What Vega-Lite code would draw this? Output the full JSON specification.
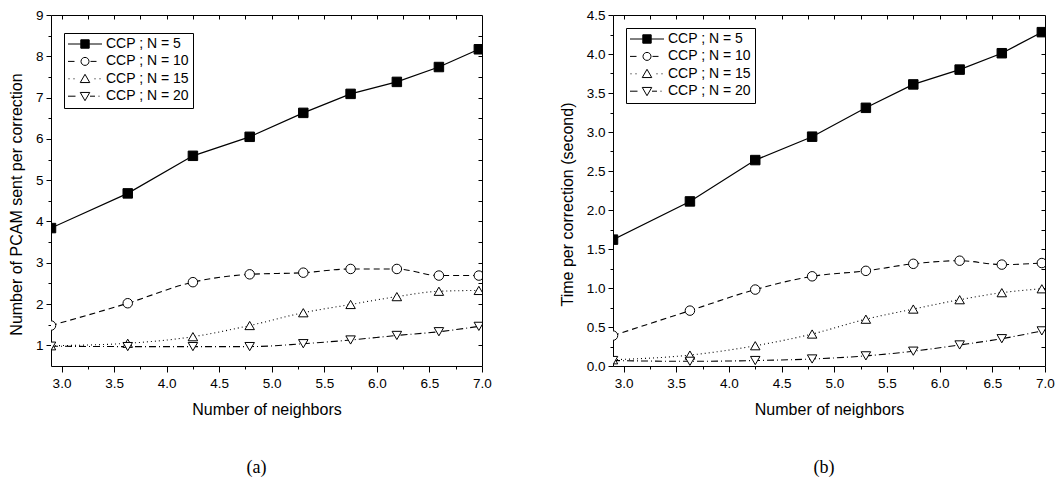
{
  "$schema": "https://vega.github.io/schema/vega-lite/v6.json",
  "padding": {"left": 7, "top": 7, "right": 5, "bottom": 2},
  "spacing": 66,
  "resolve": {
    "scale": {"shape": "independent", "fill": "independent", "stroke": "independent"},
    "legend": {"shape": "independent", "fill": "independent", "stroke": "independent"}
  },
  "datasets": {
    "a": [
      {"x": 2.9, "y": 3.84, "series": "CCP ; N = 5"},
      {"x": 3.63, "y": 4.68, "series": "CCP ; N = 5"},
      {"x": 4.25, "y": 5.59, "series": "CCP ; N = 5"},
      {"x": 4.79, "y": 6.05, "series": "CCP ; N = 5"},
      {"x": 5.3, "y": 6.63, "series": "CCP ; N = 5"},
      {"x": 5.75, "y": 7.09, "series": "CCP ; N = 5"},
      {"x": 6.19, "y": 7.38, "series": "CCP ; N = 5"},
      {"x": 6.59, "y": 7.74, "series": "CCP ; N = 5"},
      {"x": 6.97, "y": 8.17, "series": "CCP ; N = 5"},
      {"x": 2.9, "y": 1.48, "series": "CCP ; N = 10"},
      {"x": 3.63, "y": 2.02, "series": "CCP ; N = 10"},
      {"x": 4.25, "y": 2.53, "series": "CCP ; N = 10"},
      {"x": 4.79, "y": 2.72, "series": "CCP ; N = 10"},
      {"x": 5.3, "y": 2.76, "series": "CCP ; N = 10"},
      {"x": 5.75, "y": 2.85, "series": "CCP ; N = 10"},
      {"x": 6.19, "y": 2.85, "series": "CCP ; N = 10"},
      {"x": 6.59, "y": 2.69, "series": "CCP ; N = 10"},
      {"x": 6.97, "y": 2.69, "series": "CCP ; N = 10"},
      {"x": 2.9, "y": 0.99, "series": "CCP ; N = 15"},
      {"x": 3.63, "y": 1.05, "series": "CCP ; N = 15"},
      {"x": 4.25, "y": 1.21, "series": "CCP ; N = 15"},
      {"x": 4.79, "y": 1.48, "series": "CCP ; N = 15"},
      {"x": 5.3, "y": 1.79, "series": "CCP ; N = 15"},
      {"x": 5.75, "y": 1.99, "series": "CCP ; N = 15"},
      {"x": 6.19, "y": 2.18, "series": "CCP ; N = 15"},
      {"x": 6.59, "y": 2.31, "series": "CCP ; N = 15"},
      {"x": 6.97, "y": 2.33, "series": "CCP ; N = 15"},
      {"x": 2.9, "y": 0.98, "series": "CCP ; N = 20"},
      {"x": 3.63, "y": 0.97, "series": "CCP ; N = 20"},
      {"x": 4.25, "y": 0.97, "series": "CCP ; N = 20"},
      {"x": 4.79, "y": 0.97, "series": "CCP ; N = 20"},
      {"x": 5.3, "y": 1.04, "series": "CCP ; N = 20"},
      {"x": 5.75, "y": 1.13, "series": "CCP ; N = 20"},
      {"x": 6.19, "y": 1.24, "series": "CCP ; N = 20"},
      {"x": 6.59, "y": 1.33, "series": "CCP ; N = 20"},
      {"x": 6.97, "y": 1.46, "series": "CCP ; N = 20"}
    ],
    "b": [
      {"x": 2.9, "y": 1.62, "series": "CCP ; N = 5"},
      {"x": 3.63, "y": 2.11, "series": "CCP ; N = 5"},
      {"x": 4.25, "y": 2.64, "series": "CCP ; N = 5"},
      {"x": 4.79, "y": 2.94, "series": "CCP ; N = 5"},
      {"x": 5.3, "y": 3.31, "series": "CCP ; N = 5"},
      {"x": 5.75, "y": 3.61, "series": "CCP ; N = 5"},
      {"x": 6.19, "y": 3.8, "series": "CCP ; N = 5"},
      {"x": 6.59, "y": 4.01, "series": "CCP ; N = 5"},
      {"x": 6.97, "y": 4.28, "series": "CCP ; N = 5"},
      {"x": 2.9, "y": 0.39, "series": "CCP ; N = 10"},
      {"x": 3.63, "y": 0.71, "series": "CCP ; N = 10"},
      {"x": 4.25, "y": 0.98, "series": "CCP ; N = 10"},
      {"x": 4.79, "y": 1.15, "series": "CCP ; N = 10"},
      {"x": 5.3, "y": 1.22, "series": "CCP ; N = 10"},
      {"x": 5.75, "y": 1.31, "series": "CCP ; N = 10"},
      {"x": 6.19, "y": 1.35, "series": "CCP ; N = 10"},
      {"x": 6.59, "y": 1.3, "series": "CCP ; N = 10"},
      {"x": 6.97, "y": 1.32, "series": "CCP ; N = 10"},
      {"x": 2.9, "y": 0.08, "series": "CCP ; N = 15"},
      {"x": 3.63, "y": 0.14, "series": "CCP ; N = 15"},
      {"x": 4.25, "y": 0.26, "series": "CCP ; N = 15"},
      {"x": 4.79, "y": 0.41, "series": "CCP ; N = 15"},
      {"x": 5.3, "y": 0.6, "series": "CCP ; N = 15"},
      {"x": 5.75, "y": 0.73, "series": "CCP ; N = 15"},
      {"x": 6.19, "y": 0.85, "series": "CCP ; N = 15"},
      {"x": 6.59, "y": 0.94, "series": "CCP ; N = 15"},
      {"x": 6.97, "y": 0.99, "series": "CCP ; N = 15"},
      {"x": 2.9, "y": 0.07, "series": "CCP ; N = 20"},
      {"x": 3.63, "y": 0.06, "series": "CCP ; N = 20"},
      {"x": 4.25, "y": 0.07, "series": "CCP ; N = 20"},
      {"x": 4.79, "y": 0.09, "series": "CCP ; N = 20"},
      {"x": 5.3, "y": 0.13, "series": "CCP ; N = 20"},
      {"x": 5.75, "y": 0.19, "series": "CCP ; N = 20"},
      {"x": 6.19, "y": 0.27, "series": "CCP ; N = 20"},
      {"x": 6.59, "y": 0.35, "series": "CCP ; N = 20"},
      {"x": 6.97, "y": 0.45, "series": "CCP ; N = 20"}
    ]
  },
  "config": {
    "view": {"stroke": "black", "strokeWidth": 1},
    "axis": {
      "domain": false, "grid": false, "tickColor": "black", "tickWidth": 1,
      "labelColor": "black", "titleColor": "black",
      "labelFont": "Liberation Sans", "titleFont": "Liberation Sans",
      "labelFontSize": 13.5, "titleFontSize": 16, "titleFontWeight": "normal",
      "labelFlush": false, "labelOverlap": false
    },
    "legend": {
      "padding": 4,
      "strokeColor": "black", "fillColor": "white", "cornerRadius": 0,
      "labelFont": "Liberation Sans", "labelFontSize": 14, "labelColor": "black",
      "labelOffset": 24, "rowPadding": 3.4, "symbolSize": 100,
      "symbolStrokeWidth": 1, "symbolOpacity": 1,
      "labelLimit": 300
    },
    "title": {"font": "Liberation Serif", "fontSize": 18, "fontWeight": "normal", "color": "black"}
  },
  "hconcat": [
    {
      "width": 431, "height": 351,
      "title": {"text": "(a)", "orient": "bottom", "frame": "group", "dx": -10, "offset": 41, "baseline": "top"},
      "data": {"name": "a"},
      "layer": [
        {
          "transform": [{"filter": "datum.series === 'CCP ; N = 5'"}],
          "mark": {"type": "line", "color": "black", "strokeWidth": 1.2, "clip": true},
          "encoding": {
            "x": {"field": "x", "type": "quantitative", "scale": {"domain": [2.9, 7], "nice": false, "zero": false},
              "axis": {"orient": "bottom", "values": [3, 3.5, 4, 4.5, 5, 5.5, 6, 6.5, 7], "format": ".1f", "tickSize": 6, "labelPadding": 4, "title": "Number of neighbors", "titlePadding": 12}},
            "y": {"field": "y", "type": "quantitative", "scale": {"domain": [0.5, 9], "nice": false, "zero": false},
              "axis": {"orient": "left", "values": [1, 2, 3, 4, 5, 6, 7, 8, 9], "format": "d", "tickSize": 5, "labelPadding": 3, "title": "Number of PCAM sent per correction", "titlePadding": 11, "titleY": 189}}
          }
        },
        {
          "transform": [{"filter": "datum.series !== 'CCP ; N = 5'"}],
          "mark": {"type": "line", "color": "black", "strokeWidth": 1.1, "interpolate": "monotone", "clip": true},
          "encoding": {
            "x": {"field": "x", "type": "quantitative", "scale": {"domain": [2.9, 7], "nice": false, "zero": false},
              "axis": {"orient": "bottom", "values": [3.25, 3.75, 4.25, 4.75, 5.25, 5.75, 6.25, 6.75], "labels": false, "tickSize": 3, "title": null}},
            "y": {"field": "y", "type": "quantitative", "scale": {"domain": [0.5, 9], "nice": false, "zero": false},
              "axis": {"orient": "left", "values": [1.5, 2.5, 3.5, 4.5, 5.5, 6.5, 7.5, 8.5], "labels": false, "tickSize": 3, "title": null}},
            "detail": {"field": "series", "type": "nominal"},
            "strokeDash": {"condition": [
              {"test": "datum.series === 'CCP ; N = 10'", "value": [6, 4]},
              {"test": "datum.series === 'CCP ; N = 15'", "value": [1, 3]}
            ], "value": [7, 3, 1, 3]}
          }
        },
        {
          "mark": {"type": "point", "size": 90, "strokeWidth": 1, "stroke": "black", "opacity": 1, "filled": true, "clip": true},
          "encoding": {
            "x": {"field": "x", "type": "quantitative", "scale": {"domain": [2.9, 7], "nice": false, "zero": false},
              "axis": {"orient": "top", "values": [3, 3.25, 3.5, 3.75, 4, 4.25, 4.5, 4.75, 5, 5.25, 5.5, 5.75, 6, 6.25, 6.5, 6.75], "labels": false, "tickSize": -4, "title": null}},
            "y": {"field": "y", "type": "quantitative", "scale": {"domain": [0.5, 9], "nice": false, "zero": false},
              "axis": {"orient": "right", "values": [1, 1.5, 2, 2.5, 3, 3.5, 4, 4.5, 5, 5.5, 6, 6.5, 7, 7.5, 8, 8.5], "labels": false, "tickSize": -4, "title": null}},
            "shape": {"condition": [
              {"test": "datum.series === 'CCP ; N = 5'", "value": "square"},
              {"test": "datum.series === 'CCP ; N = 10'", "value": "circle"},
              {"test": "datum.series === 'CCP ; N = 15'", "value": "triangle-up"}
            ], "value": "triangle-down"},
            "fill": {"condition": {"test": "datum.series === 'CCP ; N = 5'", "value": "black"}, "value": "white"}
          }
        },
        {
          "mark": {"type": "point", "filled": true, "strokeWidth": 1, "opacity": 1, "size": 0},
          "encoding": {
            "shape": {"field": "series", "type": "nominal",
              "scale": {"domain": ["CCP ; N = 5", "CCP ; N = 10", "CCP ; N = 15", "CCP ; N = 20"],
                "range": [
                  "M-1.4,0H1.16M2.84,0H5.4M1.16,-0.84H2.84V0.84H1.16Z",
                  "M-1.4,0H-0.1M3.1,0H4.3M2.8,0C2.8,0.442 2.442,0.8 2,0.8C1.558,0.8 1.2,0.442 1.2,0C1.2,-0.442 1.558,-0.8 2,-0.8C2.442,-0.8 2.8,-0.442 2.8,0Z",
                  "M-1.3,0H-1.1M-0.3,0H-0.1M3.9,0H4.1M4.9,0H5.1M2,-0.9L2.95,0.75H1.05Z",
                  "M-1.4,0H0.1M3,0H4M4.7,0H4.9M1.05,-0.75H2.95L2,0.9Z"
                ]},
              "legend": {"title": null, "orient": "none", "legendX": 13, "legendY": 18}},
            "fill": {"field": "series", "type": "nominal",
              "scale": {"domain": ["CCP ; N = 5", "CCP ; N = 10", "CCP ; N = 15", "CCP ; N = 20"], "range": ["black", "white", "white", "white"]},
              "legend": {"title": null, "orient": "none", "legendX": 13, "legendY": 18}},
            "stroke": {"field": "series", "type": "nominal",
              "scale": {"domain": ["CCP ; N = 5", "CCP ; N = 10", "CCP ; N = 15", "CCP ; N = 20"], "range": ["black", "black", "black", "black"]},
              "legend": {"title": null, "orient": "none", "legendX": 13, "legendY": 18}}
          }
        }
      ],
      "resolve": {"axis": {"x": "independent", "y": "independent"}}
    },
    {
      "width": 432, "height": 351,
      "title": {"text": "(b)", "orient": "bottom", "frame": "group", "dx": -5, "offset": 41, "baseline": "top"},
      "data": {"name": "b"},
      "layer": [
        {
          "transform": [{"filter": "datum.series === 'CCP ; N = 5'"}],
          "mark": {"type": "line", "color": "black", "strokeWidth": 1.2, "clip": true},
          "encoding": {
            "x": {"field": "x", "type": "quantitative", "scale": {"domain": [2.9, 7], "nice": false, "zero": false},
              "axis": {"orient": "bottom", "values": [3, 3.5, 4, 4.5, 5, 5.5, 6, 6.5, 7], "format": ".1f", "tickSize": 6, "labelPadding": 4, "title": "Number of neighbors", "titlePadding": 12}},
            "y": {"field": "y", "type": "quantitative", "scale": {"domain": [0, 4.5], "nice": false, "zero": false},
              "axis": {"orient": "left", "values": [0, 0.5, 1, 1.5, 2, 2.5, 3, 3.5, 4, 4.5], "format": ".1f", "tickSize": 5, "labelPadding": 3, "title": "Time per correction (second)", "titlePadding": 11, "titleY": 189}}
          }
        },
        {
          "transform": [{"filter": "datum.series !== 'CCP ; N = 5'"}],
          "mark": {"type": "line", "color": "black", "strokeWidth": 1.1, "interpolate": "monotone", "clip": true},
          "encoding": {
            "x": {"field": "x", "type": "quantitative", "scale": {"domain": [2.9, 7], "nice": false, "zero": false},
              "axis": {"orient": "bottom", "values": [3.25, 3.75, 4.25, 4.75, 5.25, 5.75, 6.25, 6.75], "labels": false, "tickSize": 3, "title": null}},
            "y": {"field": "y", "type": "quantitative", "scale": {"domain": [0, 4.5], "nice": false, "zero": false},
              "axis": {"orient": "left", "values": [0.25, 0.75, 1.25, 1.75, 2.25, 2.75, 3.25, 3.75, 4.25], "labels": false, "tickSize": 3, "title": null}},
            "detail": {"field": "series", "type": "nominal"},
            "strokeDash": {"condition": [
              {"test": "datum.series === 'CCP ; N = 10'", "value": [6, 4]},
              {"test": "datum.series === 'CCP ; N = 15'", "value": [1, 3]}
            ], "value": [7, 3, 1, 3]}
          }
        },
        {
          "mark": {"type": "point", "size": 90, "strokeWidth": 1, "stroke": "black", "opacity": 1, "filled": true, "clip": true},
          "encoding": {
            "x": {"field": "x", "type": "quantitative", "scale": {"domain": [2.9, 7], "nice": false, "zero": false},
              "axis": {"orient": "top", "values": [3, 3.25, 3.5, 3.75, 4, 4.25, 4.5, 4.75, 5, 5.25, 5.5, 5.75, 6, 6.25, 6.5, 6.75], "labels": false, "tickSize": -4, "title": null}},
            "y": {"field": "y", "type": "quantitative", "scale": {"domain": [0, 4.5], "nice": false, "zero": false},
              "axis": {"orient": "right", "values": [0.25, 0.5, 0.75, 1, 1.25, 1.5, 1.75, 2, 2.25, 2.5, 2.75, 3, 3.25, 3.5, 3.75, 4, 4.25], "labels": false, "tickSize": -4, "title": null}},
            "shape": {"condition": [
              {"test": "datum.series === 'CCP ; N = 5'", "value": "square"},
              {"test": "datum.series === 'CCP ; N = 10'", "value": "circle"},
              {"test": "datum.series === 'CCP ; N = 15'", "value": "triangle-up"}
            ], "value": "triangle-down"},
            "fill": {"condition": {"test": "datum.series === 'CCP ; N = 5'", "value": "black"}, "value": "white"}
          }
        },
        {
          "mark": {"type": "point", "filled": true, "strokeWidth": 1, "opacity": 1, "size": 0},
          "encoding": {
            "shape": {"field": "series", "type": "nominal",
              "scale": {"domain": ["CCP ; N = 5", "CCP ; N = 10", "CCP ; N = 15", "CCP ; N = 20"],
                "range": [
                  "M-1.4,0H1.16M2.84,0H5.4M1.16,-0.84H2.84V0.84H1.16Z",
                  "M-1.4,0H-0.1M3.1,0H4.3M2.8,0C2.8,0.442 2.442,0.8 2,0.8C1.558,0.8 1.2,0.442 1.2,0C1.2,-0.442 1.558,-0.8 2,-0.8C2.442,-0.8 2.8,-0.442 2.8,0Z",
                  "M-1.3,0H-1.1M-0.3,0H-0.1M3.9,0H4.1M4.9,0H5.1M2,-0.9L2.95,0.75H1.05Z",
                  "M-1.4,0H0.1M3,0H4M4.7,0H4.9M1.05,-0.75H2.95L2,0.9Z"
                ]},
              "legend": {"title": null, "orient": "none", "legendX": 13, "legendY": 13}},
            "fill": {"field": "series", "type": "nominal",
              "scale": {"domain": ["CCP ; N = 5", "CCP ; N = 10", "CCP ; N = 15", "CCP ; N = 20"], "range": ["black", "white", "white", "white"]},
              "legend": {"title": null, "orient": "none", "legendX": 13, "legendY": 13}},
            "stroke": {"field": "series", "type": "nominal",
              "scale": {"domain": ["CCP ; N = 5", "CCP ; N = 10", "CCP ; N = 15", "CCP ; N = 20"], "range": ["black", "black", "black", "black"]},
              "legend": {"title": null, "orient": "none", "legendX": 13, "legendY": 13}}
          }
        }
      ],
      "resolve": {"axis": {"x": "independent", "y": "independent"}}
    }
  ]
}
